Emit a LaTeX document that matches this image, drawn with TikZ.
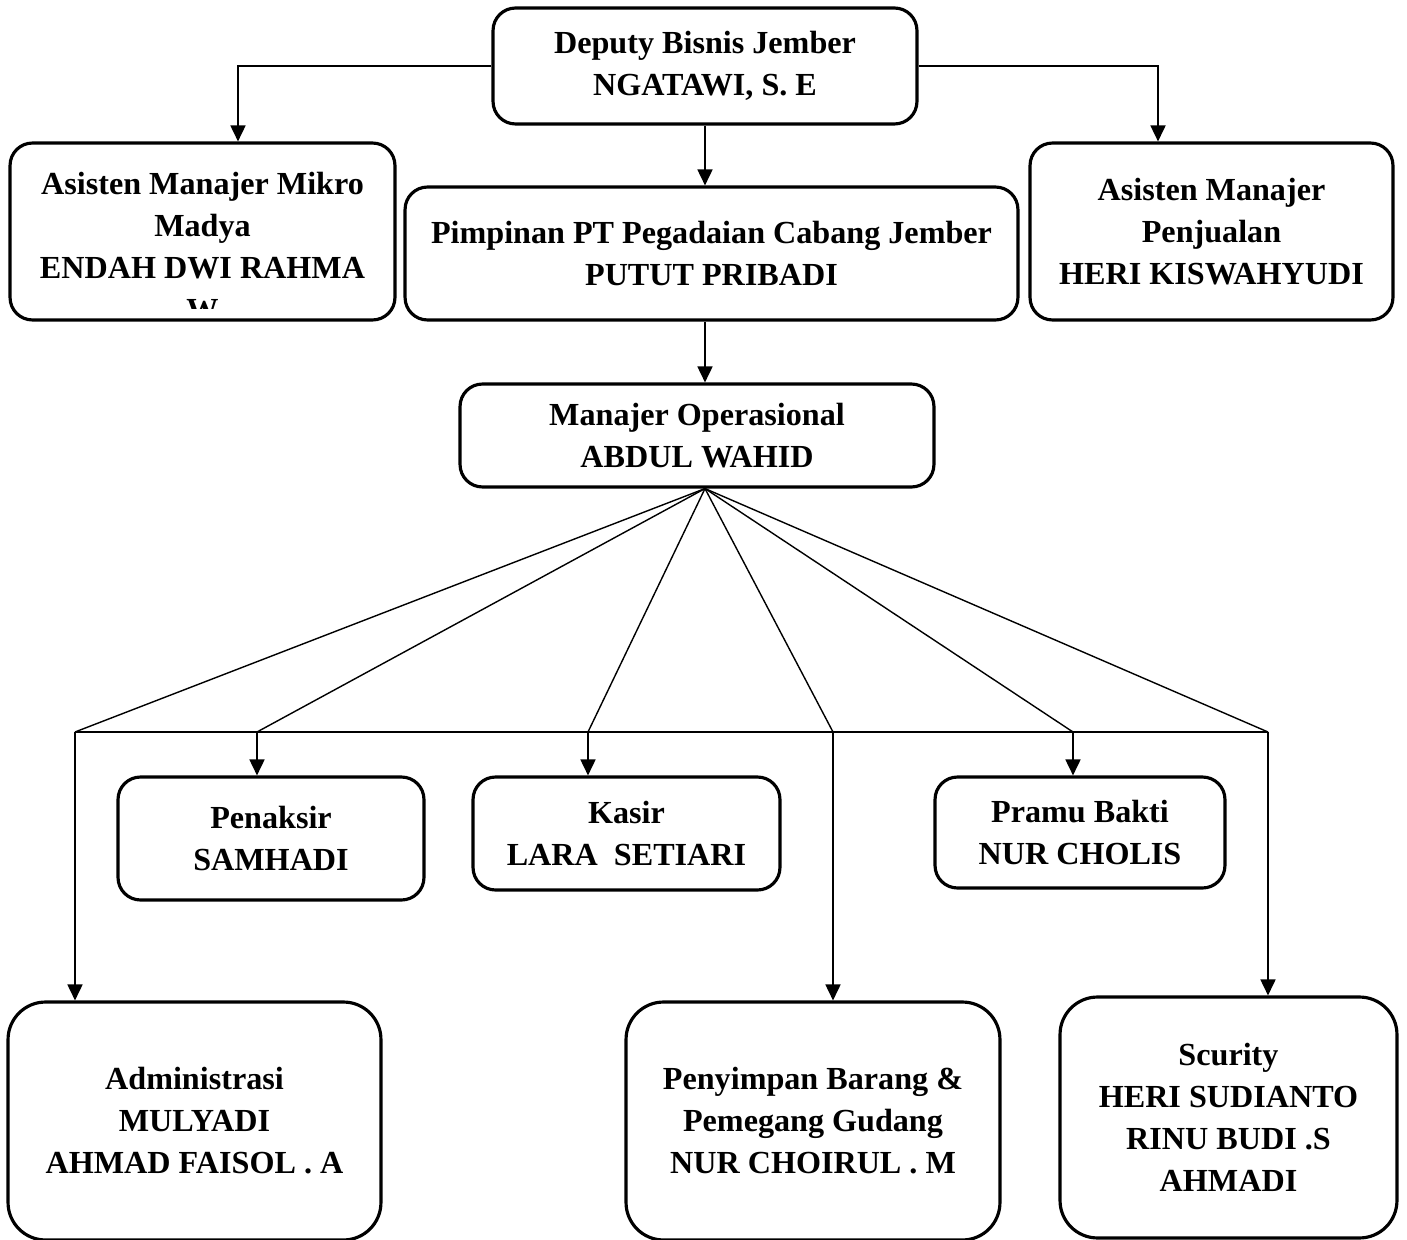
\documentclass[tikz,border=0pt]{standalone}
\usepackage{fontspec}
\setmainfont{Liberation Serif}
\usetikzlibrary{arrows.meta,calc}

\tikzset{
  box/.style={draw, line width=1.8pt, rounded corners=0.45cm, align=center,
    font=\bfseries\fontsize{18.3}{23.9}\selectfont},
  tallbox/.style={box, rounded corners=0.75cm},
  link/.style={line width=1pt},
  arr/.style={link, -{Triangle[length=0.32cm,width=0.3cm]}},
}

\begin{document}
\begin{tikzpicture}[x=0.02cm, y=-0.02cm]
        \useasboundingbox (0,0) rectangle (1407,1240);

        % Top level
        \node[box, minimum width=8.48cm, minimum height=2.32cm] (deputy) at (705,66) {Deputy Bisnis Jember\\NGATAWI, S. E};

        % Second level
        \node[box, minimum width=7.7cm, minimum height=3.54cm] (mikro) at (202.5,231.5) {};
        \begin{scope}
          \clip (mikro.north west) rectangle ([yshift=0.26cm]mikro.south east);
          \node[box, draw=none] (mikrotext) at ($(mikro.center)+(0,15.5)$) {Asisten Manajer Mikro\\Madya\\ENDAH DWI RAHMA\\W};
        \end{scope}
        \node[box, minimum width=12.26cm, minimum height=2.66cm] (pimpinan) at (711.5,253.5) {Pimpinan PT Pegadaian Cabang Jember\\PUTUT PRIBADI};
        \node[box, minimum width=7.26cm, minimum height=3.54cm] (penjualan) at (1211.5,231.5) {Asisten Manajer\\Penjualan\\HERI KISWAHYUDI};

        % Operational manager
        \node[box, minimum width=9.48cm, minimum height=2.06cm] (manajer) at (697,435.5) {Manajer Operasional\\ABDUL WAHID};

        % Staff
        \node[box, minimum width=6.12cm, minimum height=2.46cm] (penaksir) at (271,838.5) {Penaksir\\SAMHADI};
        \node[box, minimum width=6.14cm, minimum height=2.26cm] (kasir) at (626.5,833.5) {Kasir\\LARA~~SETIARI};
        \node[box, minimum width=5.8cm, minimum height=2.22cm] (pramu) at (1080,832.5) {Pramu Bakti\\NUR CHOLIS};
        \node[tallbox, minimum width=7.46cm, minimum height=4.76cm] (admin) at (194.5,1121) {Administrasi\\MULYADI\\AHMAD FAISOL . A};
        \node[tallbox, minimum width=7.48cm, minimum height=4.76cm] (simpan) at (813,1121) {Penyimpan Barang \&\\Pemegang Gudang\\NUR CHOIRUL . M};
        \node[tallbox, minimum width=6.74cm, minimum height=4.82cm] (scurity) at (1228.5,1117.5) {Scurity\\HERI SUDIANTO\\RINU BUDI .S\\AHMADI};

        % Links from the top
        \draw[arr] (deputy.west) -| ([xshift=0.71cm]mikro.north);
        \draw[arr] (deputy.east) -| ([xshift=-1.07cm]penjualan.north);
        \draw[arr] (deputy.south) -- (deputy.south |- pimpinan.north);
        \draw[arr] (deputy.south |- pimpinan.south) -- (deputy.south |- manajer.north);

        % Fan out to the staff
        \coordinate (hub) at (deputy.south |- manajer.south);
        \foreach \x/\n in {75/b1, 257/b2, 588/b3, 833/b4, 1073/b5, 1268/b6} {
          \coordinate (\n) at (\x,732);
          \draw[link, line width=0.8pt] (hub) -- (\n);
        }
        \draw[link] (b1) -- (b6);

        \draw[arr] (b1) -- (b1 |- admin.north);
        \draw[arr] (b2) -- (b2 |- penaksir.north);
        \draw[arr] (b3) -- (b3 |- kasir.north);
        \draw[arr] (b4) -- (b4 |- simpan.north);
        \draw[arr] (b5) -- (b5 |- pramu.north);
        \draw[arr] (b6) -- (b6 |- scurity.north);

      \end{tikzpicture}
\end{document}
